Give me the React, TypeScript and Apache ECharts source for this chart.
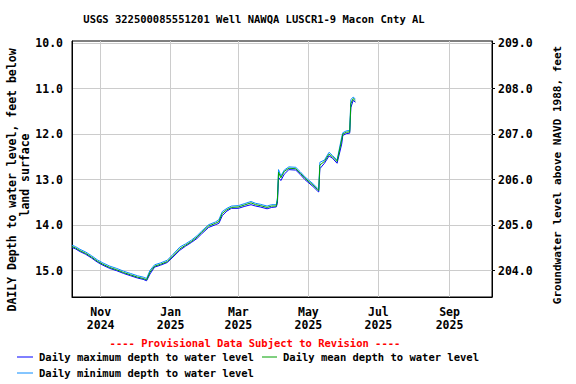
import React, { useEffect, useRef } from "react";
import * as echarts from "echarts";

const TITLE = "USGS 322500085551201 Well NAWQA LUSCR1-9 Macon Cnty AL";
const LEFT_TITLE_1 = "DAILY Depth to water level, feet below";
const LEFT_TITLE_2 = "land surface";
const RIGHT_TITLE = "Groundwater level above NAVD 1988, feet";
const PROVISIONAL = "---- Provisional Data Subject to Revision ----";
const LEGEND_MAX = "Daily maximum depth to water level";
const LEGEND_MEAN = "Daily mean depth to water level";
const LEGEND_MIN = "Daily minimum depth to water level";

const dates = [
  "2024-10-07", "2024-10-10", "2024-10-14", "2024-10-19", "2024-10-24", "2024-10-29",
  "2024-11-03", "2024-11-09", "2024-11-15", "2024-11-21", "2024-11-27", "2024-12-03",
  "2024-12-08", "2024-12-11", "2024-12-14", "2024-12-18", "2024-12-23", "2024-12-29",
  "2025-01-03", "2025-01-09", "2025-01-14", "2025-01-19", "2025-01-24", "2025-01-28",
  "2025-02-03", "2025-02-09", "2025-02-12", "2025-02-15", "2025-02-19", "2025-02-23",
  "2025-03-01", "2025-03-06", "2025-03-12", "2025-03-16", "2025-03-20", "2025-03-26",
  "2025-03-30", "2025-04-03", "2025-04-04", "2025-04-05", "2025-04-07", "2025-04-10",
  "2025-04-14", "2025-04-20", "2025-04-24", "2025-04-28", "2025-05-05", "2025-05-09",
  "2025-05-10", "2025-05-11", "2025-05-15", "2025-05-19", "2025-05-22", "2025-05-26",
  "2025-05-30", "2025-05-31", "2025-06-03", "2025-06-06", "2025-06-07", "2025-06-09",
  "2025-06-11",
];

const meanDepth = [
  14.47, 14.5, 14.56, 14.62, 14.7, 14.79,
  14.86, 14.93, 14.98, 15.04, 15.09, 15.14,
  15.17, 15.2, 15.03, 14.9, 14.86, 14.8,
  14.67, 14.52, 14.44, 14.36, 14.26, 14.16,
  14.02, 13.96, 13.92, 13.74, 13.66, 13.61,
  13.6, 13.56, 13.51, 13.55, 13.57, 13.61,
  13.58, 13.58, 13.45, 12.84, 12.96, 12.82,
  12.75, 12.76, 12.86, 12.97, 13.12, 13.22,
  13.24, 12.68, 12.6, 12.44, 12.5, 12.6,
  12.13, 12.0, 11.96, 11.95, 11.33, 11.22,
  11.27,
];

const maxDepth = [
  14.49, 14.52, 14.58, 14.64, 14.72, 14.81,
  14.88, 14.95, 15.0, 15.06, 15.11, 15.16,
  15.19, 15.22, 15.07, 14.92, 14.88, 14.82,
  14.7, 14.55, 14.46, 14.38, 14.29, 14.19,
  14.05, 13.99, 13.96, 13.79, 13.69, 13.63,
  13.63, 13.59, 13.55, 13.58, 13.6, 13.64,
  13.61, 13.6, 13.52, 12.95, 13.02, 12.88,
  12.78, 12.79, 12.89, 13.0, 13.15, 13.25,
  13.27, 12.76, 12.64, 12.48, 12.53, 12.64,
  12.22, 12.03, 11.99, 11.98, 11.42, 11.26,
  11.3,
];

const minDepth = [
  14.44, 14.47, 14.53, 14.59, 14.67, 14.76,
  14.83, 14.9, 14.95, 15.01, 15.06, 15.11,
  15.14, 15.17, 14.99, 14.87, 14.83, 14.77,
  14.64, 14.48, 14.41, 14.33, 14.23, 14.13,
  13.99, 13.93, 13.88, 13.7, 13.63, 13.58,
  13.57, 13.53, 13.48, 13.52, 13.54, 13.58,
  13.55, 13.55, 13.4, 12.78, 12.92, 12.79,
  12.72, 12.73, 12.83, 12.94, 13.09, 13.19,
  13.21, 12.62, 12.57, 12.4, 12.47, 12.57,
  12.07, 11.97, 11.93, 11.92, 11.24, 11.19,
  11.23,
];

const xTickDates = ["2024-11-01", "2025-01-01", "2025-03-01", "2025-05-01", "2025-07-01", "2025-09-01"];
const monthNames = ["Jan", "Feb", "Mar", "Apr", "May", "Jun", "Jul", "Aug", "Sep", "Oct", "Nov", "Dec"];
const xStart = "2024-10-07";
const xEnd = "2025-10-08";

const depthTicks = [10, 11, 12, 13, 14, 15];
const elevTicks = [204, 205, 206, 207, 208, 209];
const depthMin = 9.956;
const depthMax = 15.577;
const datumOffset = 219;

const FONT = "DejaVu Sans Mono";

function ts(s: string): number {
  const [y, m, d] = s.split("-").map(Number);
  return new Date(y, m - 1, d).getTime();
}

function pairs(vals: number[]) {
  return dates.map((d, i) => [ts(d), vals[i]]);
}

export default function App() {
  const ref = useRef<HTMLDivElement>(null);

  useEffect(() => {
    if (!ref.current) return;
    const chart = echarts.init(ref.current, undefined, { renderer: "svg" });
    const textBase = { fontFamily: FONT, fontWeight: "bold", fill: "#000" };
    chart.setOption({
      animation: false,
      backgroundColor: "#fff",
      grid: {
        left: 72,
        right: 84,
        top: 41,
        bottom: 87,
        show: true,
        borderColor: "#000",
        borderWidth: 1,
        containLabel: false,
      },
      xAxis: {
        type: "value",
        min: ts(xStart),
        max: ts(xEnd),
        axisLine: { show: true, lineStyle: { color: "#000", width: 1 } },
        axisTick: { show: false, customValues: xTickDates.map(ts) },
        splitLine: { show: true, lineStyle: { color: "#cccccc", width: 1 } },
        axisLabel: {
          customValues: xTickDates.map(ts),
          margin: 8,
          fontFamily: FONT,
          fontWeight: "bold",
          fontSize: 11.5,
          lineHeight: 13,
          color: "#000",
          formatter: (v: number) => {
            const d = new Date(v);
            return monthNames[d.getMonth()] + "\n" + d.getFullYear();
          },
        },
      },
      yAxis: [
        {
          type: "value",
          inverse: true,
          min: depthMin,
          max: depthMax,
          position: "left",
          axisLine: { show: true, lineStyle: { color: "#000", width: 1 } },
          axisTick: { show: false, customValues: depthTicks },
          splitLine: { show: true, lineStyle: { color: "#cccccc", width: 1 } },
          axisLabel: {
            customValues: depthTicks,
            margin: 9,
            fontFamily: FONT,
            fontWeight: "bold",
            fontSize: 11.5,
            color: "#000",
            formatter: (v: number) => v.toFixed(1),
          },
        },
        {
          type: "value",
          min: datumOffset - depthMax,
          max: datumOffset - depthMin,
          position: "right",
          axisLine: { show: true, lineStyle: { color: "#000", width: 1 } },
          axisTick: { show: true, length: 3, customValues: elevTicks, lineStyle: { color: "#000" } },
          splitLine: { show: false },
          axisLabel: {
            customValues: elevTicks,
            margin: 6,
            fontFamily: FONT,
            fontWeight: "bold",
            fontSize: 11.5,
            color: "#000",
            formatter: (v: number) => v.toFixed(1),
          },
        },
      ],
      series: [
        {
          name: LEGEND_MAX,
          type: "line",
          data: pairs(maxDepth),
          yAxisIndex: 0,
          showSymbol: false,
          lineStyle: { color: "#0000ff", width: 1 },
          itemStyle: { color: "#0000ff" },
        },
        {
          name: LEGEND_MIN,
          type: "line",
          data: pairs(minDepth),
          yAxisIndex: 0,
          showSymbol: false,
          lineStyle: { color: "#0a8cff", width: 1 },
          itemStyle: { color: "#0a8cff" },
        },
        {
          name: LEGEND_MEAN,
          type: "line",
          data: pairs(meanDepth),
          yAxisIndex: 0,
          showSymbol: false,
          lineStyle: { color: "#00a000", width: 1 },
          itemStyle: { color: "#00a000" },
        },
      ],
      graphic: [
        {
          type: "text",
          x: 254,
          y: 19,
          style: { ...textBase, text: TITLE, fontSize: 10.5, align: "center", verticalAlign: "middle" },
        },
        {
          type: "text",
          x: 12,
          y: 180,
          rotation: Math.PI / 2,
          style: { ...textBase, text: LEFT_TITLE_1, fontSize: 11.5, align: "center", verticalAlign: "middle" },
        },
        {
          type: "text",
          x: 25,
          y: 175,
          rotation: Math.PI / 2,
          style: { ...textBase, text: LEFT_TITLE_2, fontSize: 11.5, align: "center", verticalAlign: "middle" },
        },
        {
          type: "text",
          x: 557,
          y: 175,
          rotation: Math.PI / 2,
          style: { ...textBase, text: RIGHT_TITLE, fontSize: 11, align: "center", verticalAlign: "middle" },
        },
        {
          type: "text",
          x: 255,
          y: 343,
          style: { ...textBase, fill: "#ff0000", text: PROVISIONAL, fontSize: 10.5, align: "center", verticalAlign: "middle" },
        },
        {
          type: "line",
          shape: { x1: 17, y1: 357, x2: 33, y2: 357 },
          style: { stroke: "#0000ff", lineWidth: 1 },
        },
        {
          type: "text",
          x: 39,
          y: 357,
          style: { ...textBase, text: LEGEND_MAX, fontSize: 10.5, align: "left", verticalAlign: "middle" },
        },
        {
          type: "line",
          shape: { x1: 262, y1: 357, x2: 277, y2: 357 },
          style: { stroke: "#00a000", lineWidth: 1 },
        },
        {
          type: "text",
          x: 283,
          y: 357,
          style: { ...textBase, text: LEGEND_MEAN, fontSize: 10.5, align: "left", verticalAlign: "middle" },
        },
        {
          type: "line",
          shape: { x1: 17, y1: 373, x2: 33, y2: 373 },
          style: { stroke: "#0a8cff", lineWidth: 1 },
        },
        {
          type: "text",
          x: 39,
          y: 373,
          style: { ...textBase, text: LEGEND_MIN, fontSize: 10.5, align: "left", verticalAlign: "middle" },
        },
      ],
    });
    return () => chart.dispose();
  }, []);

  return (
    <div
      ref={ref}
      style={{ position: "absolute", left: 0, top: 0, width: 576, height: 384 }}
    />
  );
}
